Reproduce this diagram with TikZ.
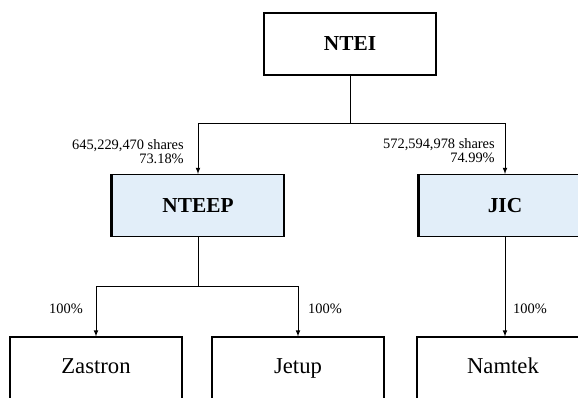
\documentclass[tikz,border=0pt]{standalone}
\usepackage{fontspec}
\setmainfont{Liberation Serif}
\usepackage{xcolor}
\usepackage{tikz}

\definecolor{subblue}{RGB}{226,238,249}

\tikzset{
    company/.style={draw, line width=0.8pt, minimum width=129pt, minimum height=46.5pt,
        inner sep=0pt, font=\fontsize{16}{18}\selectfont\bfseries},
    subsid/.style={company, font=\fontsize{17}{19}\selectfont, text height=11.5pt, text depth=3.5pt},
    stake/.style={font=\fontsize{10.8}{10.5}\selectfont, inner sep=0pt},
    own/.style={line width=0.6pt, -latex}
}

\begin{document}
\begin{tikzpicture}[x=0.75pt, y=-0.75pt]
        \useasboundingbox (0,0) rectangle (578,398);
        \clip (0,0) rectangle (578,398);

        \node[company] (ntei) at (350, 44) {NTEI};
        \node[company, fill=subblue] (nteep) at (198, 205.5) {NTEEP};
        \node[company, fill=subblue] (jic) at (505, 205.5) {JIC};
        \node[subsid] (zastron) at (96, 368) {Zastron};
        \node[subsid] (jetup) at (298, 368) {Jetup};
        \node[subsid] (namtek) at (503, 368) {Namtek};

        % heavier left edge on the blue boxes
        \draw[line width=2pt] (nteep.south west) -- (nteep.north west);
        \draw[line width=2pt] (jic.south west) -- (jic.north west);

        \coordinate (top) at (350, 123);
        \coordinate (mid) at (198, 286);

        \draw[line width=0.6pt] (ntei.south) -- (top);
        \draw[own] (top) -| (nteep.north);
        \draw[own] (top) -| (jic.north);
        \draw[line width=0.6pt] (nteep.south) -- (mid);
        \draw[own] (mid) -| (zastron.north);
        \draw[own] (mid) -| (jetup.north);
        \draw[own] (jic.south) -- (jic.south |- namtek.north);

        \node[stake, anchor=east, align=right] (lbla) at (184, 152) {645,229,470 shares\\73.18\%};
        \node[stake, anchor=east, align=right] (lblb) at (495, 151) {572,594,978 shares\\74.99\%};
        \node[stake] (lblc) at (66, 309) {100\%};
        \node[stake] (lbld) at (325, 309) {100\%};
        \node[stake] (lble) at (530, 309) {100\%};
    \end{tikzpicture}
\end{document}
